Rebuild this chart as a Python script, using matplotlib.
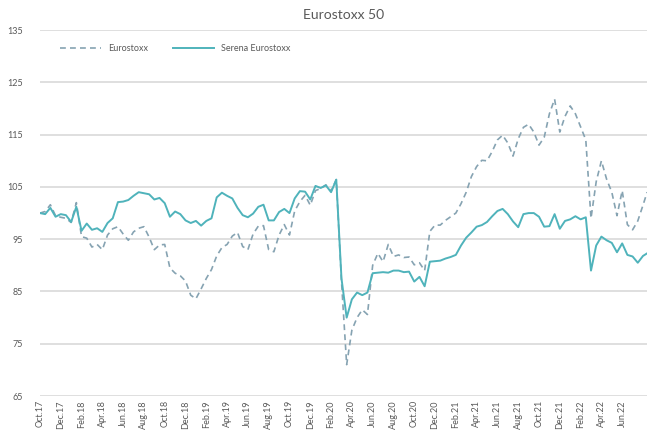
import numpy as np
import matplotlib.pyplot as plt

plt.rcParams['font.family'] = ['Lato', 'DejaVu Sans']

# months since Oct 2017, sampled twice a month
months = np.arange(0, 58.5, 0.5)
months = np.append(months, 58.4)

serena = [100.0, 99.8, 101.0, 99.3, 99.8, 99.6, 98.3, 101.2, 96.6, 98.0,
          96.8, 97.1, 96.4, 98.1, 99.0, 102.1, 102.2, 102.5, 103.3, 104.0,
          103.8, 103.6, 102.6, 102.9, 101.9, 99.3, 100.3, 99.8, 98.6, 98.1,
          98.5, 97.6, 98.5, 99.0, 103.0, 103.9, 103.3, 102.8, 101.0, 99.6,
          99.2, 99.9, 101.2, 101.6, 98.6, 98.6, 100.2, 100.8, 100.0, 102.8,
          104.2, 104.1, 102.6, 105.2, 104.8, 105.3, 104.0, 106.4, 87.5, 80.0,
          83.5, 84.8, 84.3, 84.8, 88.5, 88.6, 88.7, 88.6, 89.0, 89.0,
          88.7, 88.8, 86.9, 87.8, 86.0, 90.7, 90.8, 90.9, 91.3, 91.6,
          92.0, 93.8, 95.3, 96.3, 97.4, 97.7, 98.3, 99.4, 100.4, 100.8,
          99.8, 98.4, 97.3, 99.8, 100.0, 100.0, 99.3, 97.4, 97.5, 99.8,
          97.0, 98.5, 98.8, 99.4, 98.8, 99.2, 89.0, 93.8, 95.5, 94.8,
          94.3, 92.5, 94.2, 92.0, 91.7, 90.5, 91.8, 92.3]

eurostoxx = [100.0, 100.3, 101.6, 99.5, 99.2, 99.0, 98.2, 102.0, 95.5, 95.2,
             93.5, 94.0, 93.0, 95.8, 97.0, 97.4, 96.0, 94.8, 96.4, 97.1,
             97.4, 95.4, 93.0, 93.9, 94.0, 89.5, 88.5, 88.0, 87.0, 84.3,
             83.6, 85.5, 87.5, 89.2, 91.8, 93.4, 94.0, 95.6, 96.3, 93.6,
             93.0, 96.0, 97.5, 97.6, 93.0, 92.6, 95.8, 97.8, 95.8, 100.4,
             102.2, 103.4, 101.5, 104.3, 104.7, 105.4, 104.2, 106.4, 87.0, 71.0,
             77.6, 80.0, 81.5, 80.6, 90.0, 92.3, 90.7, 94.0, 91.7, 92.0,
             91.5, 91.6, 90.1, 90.5, 89.0, 96.5, 97.7, 97.7, 98.6, 99.3,
             100.0, 101.8, 104.0, 107.0, 108.9, 110.1, 110.0, 111.8, 114.0, 114.9,
             113.4, 110.9, 114.2, 116.4, 117.0, 115.5, 113.0, 114.5, 119.0, 121.8,
             115.5, 118.5, 120.5, 119.0, 116.5, 114.0, 99.0, 106.0, 110.0, 106.5,
             104.0, 99.5, 104.3, 97.8, 96.8, 98.5, 101.5, 104.0]

tick_pos = np.arange(0, 57, 2)
tick_labels = ['Oct.17', 'Dec.17', 'Feb.18', 'Apr.18', 'Jun.18', 'Aug.18', 'Oct.18',
               'Dec.18', 'Feb.19', 'Apr.19', 'Jun.19', 'Aug.19', 'Oct.19', 'Dec.19',
               'Feb.20', 'Apr.20', 'Jun.20', 'Aug.20', 'Oct.20', 'Dec.20', 'Feb.21',
               'Apr.21', 'Jun.21', 'Aug.21', 'Oct.21', 'Dec.21', 'Feb.22', 'Apr.22',
               'Jun.22']

text_col = '#595959'

fig = plt.figure(figsize=(6.55, 4.43), dpi=100)
ax = fig.add_axes([0.061, 0.106, 0.927, 0.826])

ax.plot(months, eurostoxx, color='#86a3b2', lw=1.2, dashes=(3.5, 2.5), label='Eurostoxx')
ax.plot(months, serena, color='#4fb3bb', lw=1.4, label='Serena Eurostoxx')

ax.set_ylim(65, 135)
ax.set_yticks(np.arange(65, 136, 10))
ax.set_xlim(0, 58.4)
ax.set_xticks(tick_pos)
ax.set_xticklabels(tick_labels, rotation=90)
ax.tick_params(length=0, labelsize=6.5, colors=text_col)
ax.tick_params(axis='y', pad=12)
ax.tick_params(axis='x', pad=3)
ax.grid(axis='y', color='#d9d9d9', lw=1.2)
ax.set_axisbelow(True)
for s in ax.spines.values():
    s.set_visible(False)

ax.set_title('Eurostoxx 50', fontsize=10, color=text_col, pad=8)
ax.legend(loc='upper left', ncol=2, frameon=False, fontsize=6.5,
          labelcolor=text_col, handlelength=4.5, columnspacing=2.8,
          bbox_to_anchor=(0.02, 0.985))

fig.savefig('out.png', dpi=100)
